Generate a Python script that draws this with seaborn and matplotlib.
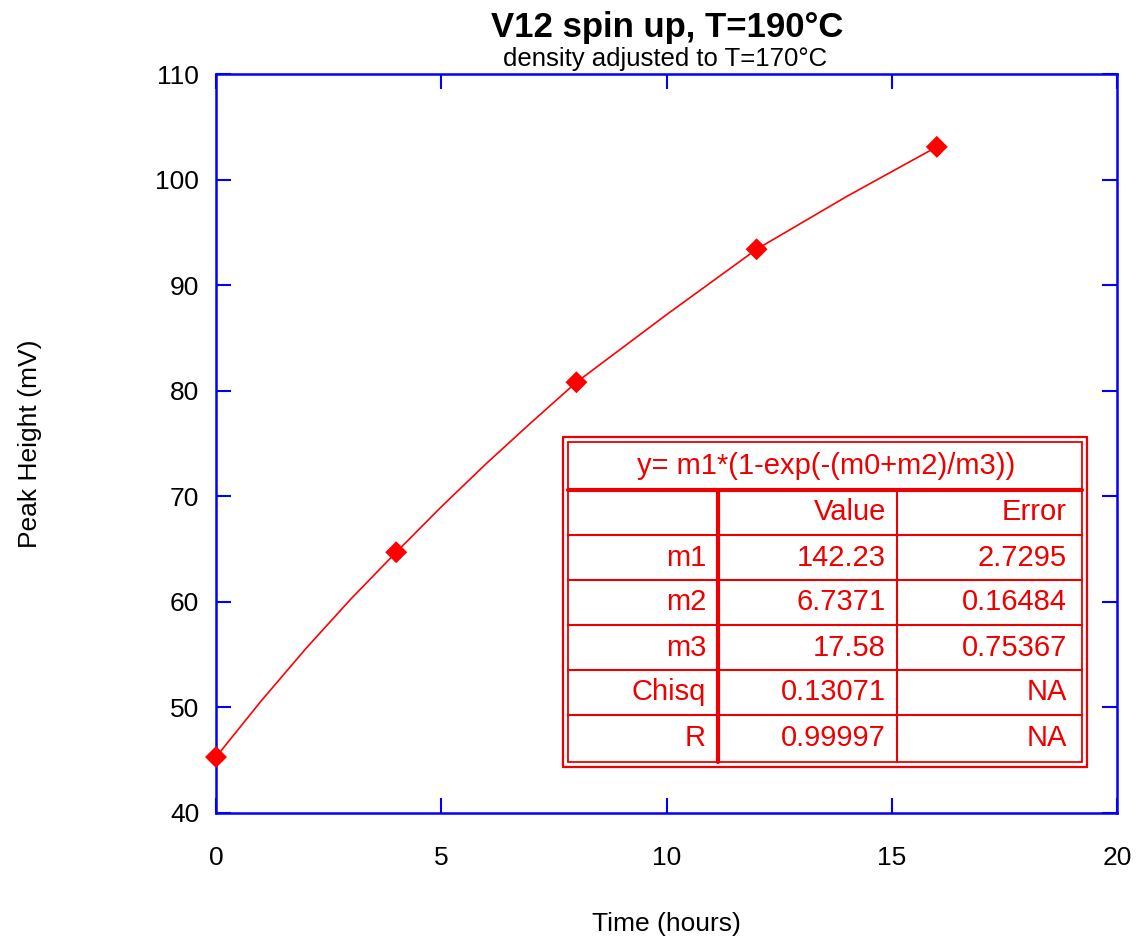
import matplotlib
matplotlib.use("Agg")
import matplotlib.pyplot as plt
import seaborn as sns
import pandas as pd
from matplotlib.lines import Line2D

# ---------------- data ----------------
time_h = [0, 4, 8, 12, 16]
peak_mv = [45.3, 64.7, 80.8, 93.4, 103.1]

# fitted curve
fit_time = [0, 1, 2, 3, 4, 5, 6, 7, 8, 10, 12, 14, 16]
fit_peak = [45.3, 50.6, 55.6, 60.3, 64.7, 69.0, 73.1, 77.0, 80.8, 87.2, 93.4, 98.4, 103.1]

x_ticks = [0, 5, 10, 15, 20]
y_ticks = [40, 50, 60, 70, 80, 90, 100, 110]

title = "V12 spin up, T=190°C"
subtitle = "density adjusted to T=170°C"
x_label = "Time (hours)"
y_label = "Peak Height (mV)"

fit_equation = "y= m1*(1-exp(-(m0+m2)/m3))"
table_header = ["", "Value", "Error"]
param_names = ["m1", "m2", "m3", "Chisq", "R"]
param_values = ["142.23", "6.7371", "17.58", "0.13071", "0.99997"]
param_errors = ["2.7295", "0.16484", "0.75367", "NA", "NA"]

# ---------------- style ----------------
sns.set_theme(style="white")
plt.rcParams["font.family"] = ["Liberation Sans", "DejaVu Sans"]

W, H = 1145, 940
fig = plt.figure(figsize=(W / 100, H / 100), dpi=100)
fig.patch.set_facecolor("white")

L, R, T, B = 216, 1117, 74, 813
ax = fig.add_axes([L / W, 1 - B / H, (R - L) / W, (B - T) / H])
ax.set_facecolor("white")

pts = pd.DataFrame({"time": time_h, "peak": peak_mv})
fit = pd.DataFrame({"time": fit_time, "peak": fit_peak})

sns.lineplot(data=fit, x="time", y="peak", ax=ax, color="#ff0000",
             linewidth=1.2, sort=False, clip_on=False, zorder=3)
sns.scatterplot(data=pts, x="time", y="peak", ax=ax, marker="D", s=125,
                color="#ff0000", edgecolor="none", clip_on=False, zorder=5)

ax.set_xlim(0, 20)
ax.set_ylim(40, 110)
ax.set_xticks(x_ticks)
ax.set_yticks(y_ticks)

blue = "#0000ff"
for sp in ax.spines.values():
    sp.set_visible(True)
    sp.set_color(blue)
    sp.set_linewidth(1.8)

ax.tick_params(axis="both", which="major", direction="in", length=10.5,
               width=1.5, color=blue, labelcolor="black", labelsize=19,
               top=True, right=True, bottom=True, left=True)
ax.tick_params(axis="x", pad=24)
ax.tick_params(axis="y", pad=12)

ax.set_xlabel(x_label, fontsize=19, color="black")
ax.set_ylabel(y_label, fontsize=19, color="black")
ax.xaxis.set_label_coords(0.5, (B - 912) / (B - T))
ax.yaxis.set_label_coords((42 - L) / (R - L), 0.5)

fig.text(667 / W, 1 - 37 / H, title, ha="center", va="baseline",
         fontsize=25, fontweight="bold", color="black")
fig.text(665 / W, 1 - 66 / H, subtitle, ha="center", va="baseline",
         fontsize=18.5, color="black")

# ---------------- fit results table ----------------
red = "#ee0000"


def fx(px):
    return px / W


def fy(py):
    return 1 - py / H


def hline(x0, x1, y, lw):
    fig.add_artist(Line2D([fx(x0), fx(x1)], [fy(y), fy(y)], color=red,
                          linewidth=lw, transform=fig.transFigure, zorder=6))


def vline(x, y0, y1, lw):
    fig.add_artist(Line2D([fx(x), fx(x)], [fy(y0), fy(y1)], color=red,
                          linewidth=lw, transform=fig.transFigure, zorder=6))


def rect(x0, y0, x1, y1, lw):
    hline(x0, x1, y0, lw)
    hline(x0, x1, y1, lw)
    vline(x0, y0, y1, lw)
    vline(x1, y0, y1, lw)


# white background for table
fig.add_artist(plt.Rectangle((fx(563), fy(767)), fx(1087) - fx(563),
                             fy(437) - fy(767), transform=fig.transFigure,
                             facecolor="white", edgecolor="none", zorder=5.5))

rect(563, 437, 1087, 767, 1.6)
rect(568, 442, 1082, 762, 1.3)
hline(568, 1082, 490, 3.0)
row_lines = [535, 580, 625, 670, 715]
for yy in row_lines:
    hline(568, 1082, yy, 1.5)
vline(718, 490, 762, 3.0)
vline(897, 490, 762, 1.5)

fig.text(fx(826), fy(466), fit_equation, ha="center", va="center",
         fontsize=21, color=red, zorder=7)

col_right = [706, 886, 1067]
row_bounds = [490] + row_lines + [762]
row_centers = [(row_bounds[i] + row_bounds[i + 1]) / 2 for i in range(6)]

rows = [table_header] + [[n, v, e] for n, v, e in
                         zip(param_names, param_values, param_errors)]
for yc, row in zip(row_centers, rows):
    for xr, txt in zip(col_right, row):
        if txt:
            fig.text(fx(xr), fy(yc), txt, ha="right", va="center",
                     fontsize=21, color=red, zorder=7)

fig.savefig("out.png", dpi=100, facecolor="white")
